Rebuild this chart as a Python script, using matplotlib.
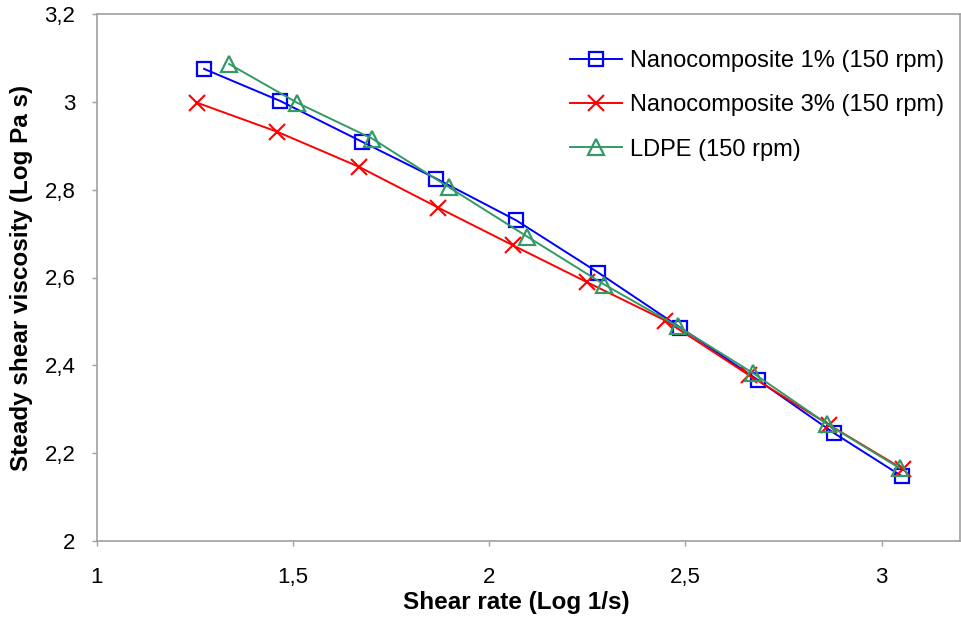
import matplotlib
matplotlib.use("Agg")
import matplotlib.pyplot as plt
from matplotlib.ticker import FuncFormatter, MultipleLocator

plt.rcParams['font.family'] = ['Liberation Sans', 'DejaVu Sans']

x_nc1 = [1.273, 1.467, 1.676, 1.865, 2.069, 2.278, 2.487, 2.686, 2.880, 3.051]
y_nc1 = [3.075, 3.002, 2.909, 2.825, 2.730, 2.611, 2.486, 2.366, 2.245, 2.148]

x_nc3 = [1.255, 1.459, 1.668, 1.870, 2.061, 2.250, 2.449, 2.663, 2.867, 3.054]
y_nc3 = [2.998, 2.932, 2.852, 2.759, 2.673, 2.589, 2.502, 2.377, 2.264, 2.164]

x_ldpe = [1.337, 1.510, 1.702, 1.898, 2.097, 2.293, 2.480, 2.673, 2.862, 3.046]
y_ldpe = [3.086, 2.998, 2.916, 2.805, 2.693, 2.584, 2.489, 2.382, 2.266, 2.166]

labels = ["Nanocomposite 1% (150 rpm)", "Nanocomposite 3% (150 rpm)", "LDPE (150 rpm)"]

fig = plt.figure(figsize=(9.61, 6.19), dpi=100)
ax = fig.add_axes([97/961, 78/619, (960-97)/961, (541-14)/619])

ax.plot(x_nc1, y_nc1, color='#0000FF', marker='s', markersize=9.5, markerfacecolor='none',
        markeredgewidth=1.6, linewidth=1.4, label=labels[0])
ax.plot(x_nc3, y_nc3, color='#FF0000', marker='x', markersize=11, markeredgewidth=1.5,
        linewidth=1.4, label=labels[1])
ax.plot(x_ldpe, y_ldpe, color='#339966', marker='^', markersize=11, markerfacecolor='none',
        markeredgewidth=1.6, linewidth=1.4, label=labels[2])

ax.set_xlim(1, 3.2)
ax.set_ylim(2, 3.2)
ax.xaxis.set_major_locator(MultipleLocator(0.5))
ax.yaxis.set_major_locator(MultipleLocator(0.2))
fmt = FuncFormatter(lambda v, p: ('%g' % round(v, 2)).replace('.', ','))
ax.xaxis.set_major_formatter(fmt)
ax.yaxis.set_major_formatter(fmt)

for s in ax.spines.values():
    s.set_color('#a0a0a0')
    s.set_linewidth(1.2)
ax.tick_params(axis='both', colors='#a0a0a0', labelcolor='black', labelsize=16,
               length=3.5, width=1, direction='out')
ax.tick_params(axis='x', pad=15)
ax.tick_params(axis='y', pad=12)

ax.set_xlabel('Shear rate (Log 1/s)', fontsize=17.5, fontweight='bold', labelpad=6)
ax.xaxis.set_label_coords(0.486, -0.095)
ax.set_ylabel('Steady shear viscosity (Log Pa s)', fontsize=17.5, fontweight='bold', labelpad=8)

ax.legend(loc='upper right', frameon=False, fontsize=17, handlelength=2.2,
          handletextpad=0.3, labelspacing=0.95, bbox_to_anchor=(0.992, 0.95),
          borderaxespad=0.0)

fig.savefig('out.png', dpi=100)
